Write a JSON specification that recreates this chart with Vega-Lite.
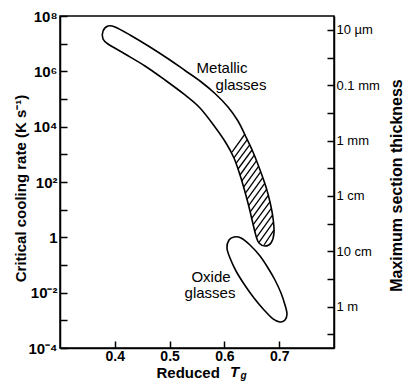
{
  "$schema": "https://vega.github.io/schema/vega-lite/v6.json",
  "width": 274,
  "height": 332,
  "autosize": {"type": "none"},
  "padding": {"left": 60, "top": 16, "right": 72, "bottom": 35},
  "background": "white",
  "config": {
    "view": {"stroke": "black", "strokeWidth": 1.5},
    "font": "Liberation Sans",
    "axis": {
      "domainColor": "black", "domainWidth": 1.5, "tickColor": "black", "tickWidth": 1.5,
      "labelColor": "black", "titleColor": "black", "grid": false, "labelFont": "Liberation Sans", "titleFont": "Liberation Sans"
    }
  },
  "datasets": {
    "outline": [
      {"shape": "metallic", "i": 1, "tg": 0.3785, "rate": 2.87e7},
      {"shape": "metallic", "i": 2, "tg": 0.3876, "rate": 4.36e7},
      {"shape": "metallic", "i": 3, "tg": 0.4004, "rate": 4.0e7},
      {"shape": "metallic", "i": 4, "tg": 0.4277, "rate": 2.06e7},
      {"shape": "metallic", "i": 5, "tg": 0.4642, "rate": 7.59e6},
      {"shape": "metallic", "i": 6, "tg": 0.5007, "rate": 2.57e6},
      {"shape": "metallic", "i": 7, "tg": 0.5281, "rate": 1.07e6},
      {"shape": "metallic", "i": 8, "tg": 0.5555, "rate": 4.47e5},
      {"shape": "metallic", "i": 9, "tg": 0.5828, "rate": 1.58e5},
      {"shape": "metallic", "i": 10, "tg": 0.6066, "rate": 5.14e4},
      {"shape": "metallic", "i": 11, "tg": 0.6248, "rate": 1.6e4},
      {"shape": "metallic", "i": 12, "tg": 0.6376, "rate": 5000},
      {"shape": "metallic", "i": 13, "tg": 0.6522, "rate": 1210},
      {"shape": "metallic", "i": 14, "tg": 0.665, "rate": 272},
      {"shape": "metallic", "i": 15, "tg": 0.6759, "rate": 65.9},
      {"shape": "metallic", "i": 16, "tg": 0.6832, "rate": 18.9},
      {"shape": "metallic", "i": 17, "tg": 0.6887, "rate": 5.0},
      {"shape": "metallic", "i": 18, "tg": 0.6905, "rate": 1.44},
      {"shape": "metallic", "i": 19, "tg": 0.685, "rate": 0.624},
      {"shape": "metallic", "i": 20, "tg": 0.6741, "rate": 0.486},
      {"shape": "metallic", "i": 21, "tg": 0.6631, "rate": 0.624},
      {"shape": "metallic", "i": 22, "tg": 0.6577, "rate": 1.12},
      {"shape": "metallic", "i": 23, "tg": 0.6522, "rate": 3.03},
      {"shape": "metallic", "i": 24, "tg": 0.6449, "rate": 12.5},
      {"shape": "metallic", "i": 25, "tg": 0.6376, "rate": 43.6},
      {"shape": "metallic", "i": 26, "tg": 0.6285, "rate": 179},
      {"shape": "metallic", "i": 27, "tg": 0.6175, "rate": 738},
      {"shape": "metallic", "i": 28, "tg": 0.6029, "rate": 2570},
      {"shape": "metallic", "i": 29, "tg": 0.5828, "rate": 9730},
      {"shape": "metallic", "i": 30, "tg": 0.5555, "rate": 4.73e4},
      {"shape": "metallic", "i": 31, "tg": 0.5281, "rate": 1.4e5},
      {"shape": "metallic", "i": 32, "tg": 0.4916, "rate": 4.86e5},
      {"shape": "metallic", "i": 33, "tg": 0.4551, "rate": 1.56e6},
      {"shape": "metallic", "i": 34, "tg": 0.4186, "rate": 4.24e6},
      {"shape": "metallic", "i": 35, "tg": 0.3876, "rate": 9.72e6},
      {"shape": "metallic", "i": 36, "tg": 0.3785, "rate": 1.48e7},
      {"shape": "oxide", "i": 1, "tg": 0.6175, "rate": 1.03},
      {"shape": "oxide", "i": 2, "tg": 0.6303, "rate": 0.946},
      {"shape": "oxide", "i": 3, "tg": 0.6467, "rate": 0.528},
      {"shape": "oxide", "i": 4, "tg": 0.665, "rate": 0.211},
      {"shape": "oxide", "i": 5, "tg": 0.6796, "rate": 0.078},
      {"shape": "oxide", "i": 6, "tg": 0.6923, "rate": 0.0287},
      {"shape": "oxide", "i": 7, "tg": 0.7033, "rate": 0.00972},
      {"shape": "oxide", "i": 8, "tg": 0.7106, "rate": 0.00358},
      {"shape": "oxide", "i": 9, "tg": 0.7142, "rate": 0.00169},
      {"shape": "oxide", "i": 10, "tg": 0.7106, "rate": 0.00103},
      {"shape": "oxide", "i": 11, "tg": 0.7015, "rate": 0.00087},
      {"shape": "oxide", "i": 12, "tg": 0.6887, "rate": 0.00112},
      {"shape": "oxide", "i": 13, "tg": 0.6723, "rate": 0.00237},
      {"shape": "oxide", "i": 14, "tg": 0.654, "rate": 0.00641},
      {"shape": "oxide", "i": 15, "tg": 0.6358, "rate": 0.0206},
      {"shape": "oxide", "i": 16, "tg": 0.6212, "rate": 0.0607},
      {"shape": "oxide", "i": 17, "tg": 0.6102, "rate": 0.179},
      {"shape": "oxide", "i": 18, "tg": 0.6047, "rate": 0.411},
      {"shape": "oxide", "i": 19, "tg": 0.6084, "rate": 0.802}
    ],
    "hatch": [
      {"tg": 0.6139, "rate": 1213, "tg2": 0.6376, "rate2": 5430},
      {"tg": 0.6175, "rate": 738, "tg2": 0.6416, "rate2": 3410},
      {"tg": 0.6212, "rate": 467, "tg2": 0.6458, "rate2": 2170},
      {"tg": 0.6248, "rate": 295, "tg2": 0.6504, "rate2": 1435},
      {"tg": 0.6285, "rate": 179, "tg2": 0.6546, "rate2": 931},
      {"tg": 0.6318, "rate": 109, "tg2": 0.6584, "rate2": 583},
      {"tg": 0.635, "rate": 65.9, "tg2": 0.6624, "rate2": 370},
      {"tg": 0.6381, "rate": 39.1, "tg2": 0.6661, "rate2": 230},
      {"tg": 0.6412, "rate": 23.7, "tg2": 0.6697, "rate2": 142},
      {"tg": 0.6442, "rate": 14.0, "tg2": 0.6736, "rate2": 88.9},
      {"tg": 0.6471, "rate": 8.24, "tg2": 0.677, "rate2": 54.5},
      {"tg": 0.6498, "rate": 4.88, "tg2": 0.6799, "rate2": 32.5},
      {"tg": 0.6526, "rate": 2.86, "tg2": 0.683, "rate2": 19.2},
      {"tg": 0.6555, "rate": 1.69, "tg2": 0.6852, "rate2": 11.0},
      {"tg": 0.6588, "rate": 1.02, "tg2": 0.6877, "rate2": 6.37},
      {"tg": 0.6628, "rate": 0.65, "tg2": 0.6892, "rate2": 3.44},
      {"tg": 0.6723, "rate": 0.528, "tg2": 0.6903, "rate2": 1.81}
    ],
    "labels": [
      {"text": "Metallic", "tg": 0.5956, "rate": 1.32e6},
      {"text": "glasses", "tg": 0.6303, "rate": 3.2e5},
      {"text": "Oxide", "tg": 0.5755, "rate": 0.0368},
      {"text": "glasses", "tg": 0.5737, "rate": 0.00973}
    ],
    "tsym": [{"text": "T", "tg": 0.6102, "rate": 8.95e-6}],
    "gsub": [{"text": "g", "tg": 0.6294, "rate": 7.59e-6}]
  },
  "resolve": {"scale": {"y": "shared", "x": "shared"}, "axis": {"y": "independent", "x": "independent"}},
  "layer": [
    {
      "data": {"name": "outline"},
      "mark": {"type": "line", "interpolate": "cardinal-closed", "color": "black", "strokeWidth": 1.6},
      "encoding": {
        "x": {
          "field": "tg", "type": "quantitative",
          "scale": {"domain": [0.3, 0.8], "nice": false, "zero": false},
          "axis": {
            "orient": "bottom", "values": [0.4, 0.5, 0.6, 0.7], "format": ".1f",
            "tickSize": -7, "labelPadding": 8, "labelFontSize": 14, "labelFontWeight": "bold", "labelFlush": false,
            "title": "Reduced", "titleFontSize": 15, "titleFontWeight": "bold",
            "titleAlign": "left", "titleBaseline": "alphabetic", "titleX": 96, "titleY": 29
          }
        },
        "y": {
          "field": "rate", "type": "quantitative",
          "scale": {"type": "log", "domain": [0.0001, 100000000], "nice": false},
          "axis": {
            "orient": "left",
            "values": [0.0001, 0.001, 0.01, 0.1, 1, 10, 100, 1000, 10000, 100000, 1000000, 10000000, 100000000],
            "labelExpr": "round(log(datum.value)/LN10) == 8 ? '10⁸' : round(log(datum.value)/LN10) == 6 ? '10⁶' : round(log(datum.value)/LN10) == 4 ? '10⁴' : round(log(datum.value)/LN10) == 2 ? '10²' : round(log(datum.value)/LN10) == 0 ? '1' : round(log(datum.value)/LN10) == -2 ? '10⁻²' : round(log(datum.value)/LN10) == -4 ? '10⁻⁴' : ''",
            "labelOverlap": false, "labelFlush": false, "labelBound": false,
            "tickSize": -7, "labelPadding": 10, "labelFontSize": 15, "labelFontWeight": "bold",
            "title": "Critical cooling rate (K s⁻¹)", "titleFontSize": 15, "titleFontWeight": "bold",
            "titleAngle": 270, "titleAlign": "center", "titleBaseline": "bottom", "titleX": -32, "titleY": 172
          }
        },
        "detail": {"field": "shape"},
        "order": {"field": "i", "type": "quantitative"}
      }
    },
    {
      "data": {"name": "hatch"},
      "mark": {"type": "rule", "color": "black", "strokeWidth": 1.3},
      "encoding": {
        "x": {"field": "tg", "type": "quantitative", "axis": null},
        "x2": {"field": "tg2"},
        "y": {
          "field": "rate", "type": "quantitative",
          "axis": {
            "orient": "right",
            "values": [31622776.6, 3162277.66, 316227.766, 31622.7766, 3162.27766, 316.227766, 31.6227766, 3.16227766, 0.316227766, 0.0316227766, 0.00316227766, 0.000316227766],
            "labelExpr": "round(2*log(datum.value)/LN10) == 15 ? '10 µm' : round(2*log(datum.value)/LN10) == 11 ? '0.1 mm' : round(2*log(datum.value)/LN10) == 7 ? '1 mm' : round(2*log(datum.value)/LN10) == 3 ? '1 cm' : round(2*log(datum.value)/LN10) == -1 ? '10 cm' : round(2*log(datum.value)/LN10) == -5 ? '1 m' : ''",
            "labelOverlap": false, "labelFlush": false, "labelBound": false,
            "tickSize": -7, "labelPadding": 9, "labelFontSize": 13,
            "title": "Maximum section thickness", "titleFontSize": 16, "titleFontWeight": "bold",
            "titleAngle": 270, "titleAlign": "center", "titleBaseline": "bottom", "titleX": 70, "titleY": 169
          }
        },
        "y2": {"field": "rate2"}
      }
    },
    {
      "data": {"name": "labels"},
      "mark": {"type": "text", "fontSize": 15, "font": "Liberation Sans", "align": "center", "baseline": "middle", "color": "black"},
      "encoding": {
        "x": {"field": "tg", "type": "quantitative", "axis": null},
        "y": {"field": "rate", "type": "quantitative", "axis": null},
        "text": {"field": "text"}
      }
    },
    {
      "data": {"name": "tsym"},
      "mark": {"type": "text", "fontSize": 15, "font": "Liberation Sans", "fontWeight": "bold", "fontStyle": "italic", "align": "left", "baseline": "alphabetic", "color": "black"},
      "encoding": {
        "x": {"field": "tg", "type": "quantitative", "axis": null},
        "y": {"field": "rate", "type": "quantitative", "axis": null},
        "text": {"field": "text"}
      }
    },
    {
      "data": {"name": "gsub"},
      "mark": {"type": "text", "fontSize": 10, "font": "Liberation Sans", "fontWeight": "bold", "fontStyle": "italic", "align": "left", "baseline": "alphabetic", "color": "black"},
      "encoding": {
        "x": {"field": "tg", "type": "quantitative", "axis": null},
        "y": {"field": "rate", "type": "quantitative", "axis": null},
        "text": {"field": "text"}
      }
    }
  ]
}
